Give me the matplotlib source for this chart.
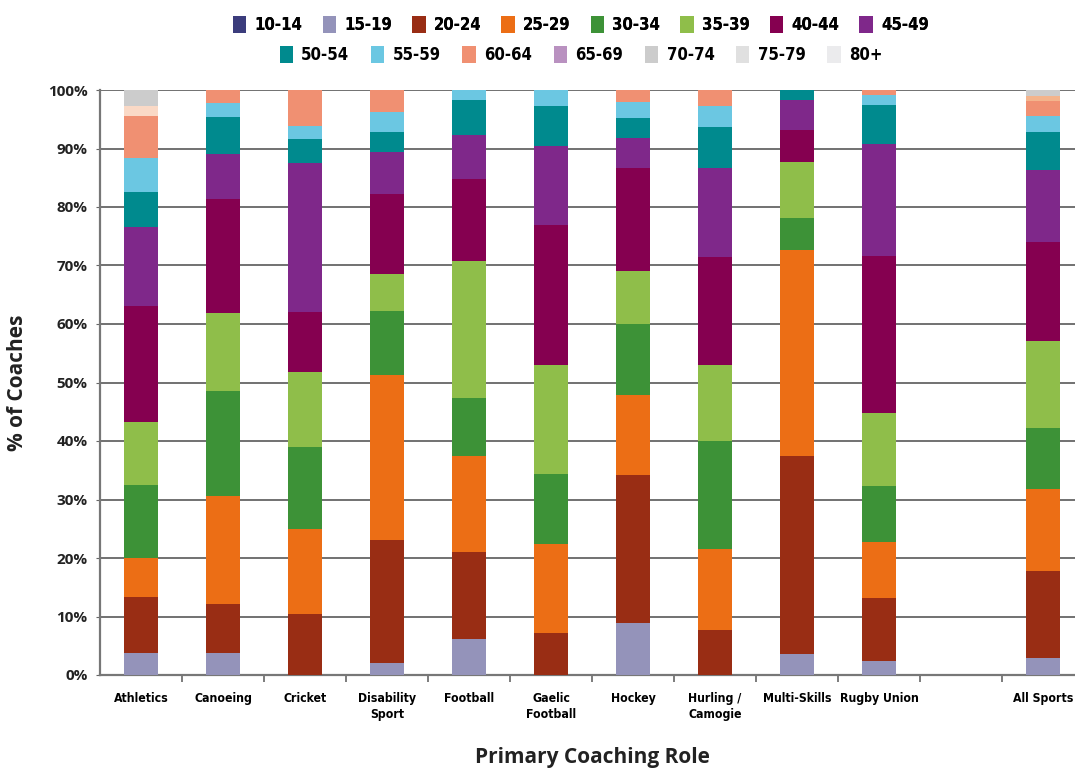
import numpy as np
import matplotlib
matplotlib.use("Agg")
import matplotlib.pyplot as plt
from matplotlib.patches import Patch
from matplotlib.ticker import FuncFormatter
from matplotlib.font_manager import FontProperties

# sports on the x axis (slot 10 is left empty in the original)
sports = ['Athletics', 'Canoeing', 'Cricket', 'Disability\nSport', 'Football',
          'Gaelic\nFootball', 'Hockey', 'Hurling /\nCamogie', 'Multi-Skills',
          'Rugby Union', '', 'All Sports']

age_groups = ['10-14', '15-19', '20-24', '25-29', '30-34', '35-39', '40-44', '45-49',
              '50-54', '55-59', '60-64', '65-69', '70-74', '75-79', '80+']

# % of coaches per age group, one value per sport
a10_14 = [0, 0, 0, 0, 0, 0, 0, 0, 0, 0, 0, 0]
a15_19 = [3.8, 3.8, 0, 2.0, 6.1, 0, 8.9, 0, 3.6, 2.4, 0, 2.9]
a20_24 = [9.5, 8.3, 10.4, 21.1, 14.9, 7.2, 25.3, 7.7, 33.8, 10.8, 0, 14.9]
a25_29 = [6.7, 18.5, 14.5, 28.2, 16.4, 15.2, 13.6, 13.8, 35.2, 9.5, 0, 14.0]
a30_34 = [12.5, 17.9, 14.0, 10.9, 9.9, 11.9, 12.2, 18.5, 5.6, 9.6, 0, 10.4]
a35_39 = [10.7, 13.3, 12.9, 6.3, 23.5, 18.7, 9.0, 13.0, 9.5, 12.5, 0, 14.9]
a40_44 = [19.9, 19.5, 10.2, 13.8, 14.0, 23.9, 17.7, 18.4, 5.5, 26.8, 0, 17.0]
a45_49 = [13.4, 7.7, 25.5, 7.1, 7.5, 13.6, 5.1, 15.3, 5.1, 19.2, 0, 12.3]
a50_54 = [6.1, 6.3, 4.2, 3.5, 6.0, 6.7, 3.4, 6.9, 1.7, 6.6, 0, 6.4]
a55_59 = [5.8, 2.4, 2.2, 3.3, 1.7, 2.8, 2.7, 3.7, 0, 1.7, 0, 2.8]
a60_64 = [7.2, 2.3, 6.1, 3.8, 0, 0, 2.1, 2.7, 0, 0.9, 0, 2.5]
a65_69 = [1.6, 0, 0, 0, 0, 0, 0, 0, 0, 0, 0, 0.9]
a70_74 = [2.8, 0, 0, 0, 0, 0, 0, 0, 0, 0, 0, 1.0]
a75_79 = [0, 0, 0, 0, 0, 0, 0, 0, 0, 0, 0, 0]
a80_plus = [0, 0, 0, 0, 0, 0, 0, 0, 0, 0, 0, 0]

series = [a10_14, a15_19, a20_24, a25_29, a30_34, a35_39, a40_44, a45_49,
          a50_54, a55_59, a60_64, a65_69, a70_74, a75_79, a80_plus]

legend_colors = ['#3B3C7C', '#9493BA', '#992D14', '#EC6E15', '#3D9237', '#8FBE4A',
                 '#850050', '#7F288A', '#008A8E', '#6BC7E2', '#F09072', '#B991C0',
                 '#CCCCCC', '#E0E0E0', '#EBEBED']
# the 65-69 segments are drawn in peach tones in the bars
bar_colors = list(legend_colors)
bar_colors[11] = ['#FAD9C6'] + ['#F4B48C'] * 11

tick_fp = FontProperties(family='DejaVu Sans', stretch='condensed', weight='bold', size=8.8)
leg_fp = FontProperties(family='DejaVu Sans', stretch='condensed', weight='bold', size=12)

fig = plt.figure(figsize=(10.75, 7.7), dpi=100)
ax = fig.add_axes([100 / 1075, 95 / 770, 984 / 1075, 585 / 770])

x = np.arange(len(sports))
bottom = np.zeros(len(sports))
for vals, col in zip(series, bar_colors):
    vals = np.array(vals, dtype=float)
    ax.bar(x, vals, bottom=bottom, width=0.42, color=col, linewidth=0, zorder=3)
    bottom += vals

ax.set_xlim(-0.5, len(sports) - 0.5)
ax.set_ylim(0, 100)
ax.set_yticks(np.arange(0, 101, 10))
ax.yaxis.set_major_formatter(FuncFormatter(lambda v, p: f'{v:.0f}%'))
ax.grid(axis='y', color='#4a4a4a', linewidth=1.1, zorder=0)

ax.set_xticks(x)
ax.set_xticklabels(sports, fontproperties=tick_fp, linespacing=1.35)
ax.set_xticks(np.arange(0.5, len(sports) - 0.5, 1), minor=True)
ax.tick_params(axis='x', which='major', length=0, pad=12)
ax.tick_params(axis='x', which='minor', length=5, color='#666666', width=1.2)
ax.tick_params(axis='y', length=3, color='#666666', pad=6)
for lab in ax.get_yticklabels():
    lab.set_fontsize(11)
    lab.set_fontweight('bold')
    lab.set_family(['Open Sans', 'DejaVu Sans'])
    lab.set_color('#222222')

for s in ['top', 'right']:
    ax.spines[s].set_visible(False)
for s in ['left', 'bottom']:
    ax.spines[s].set_color('#777777')
    ax.spines[s].set_linewidth(1.6)

ax.set_ylabel('% of Coaches', fontsize=15, fontweight='bold',
              family=['Open Sans', 'DejaVu Sans'], labelpad=14, color='#222222')
fig.text(592 / 1075, 1 - 758 / 770, 'Primary Coaching Role', ha='center', va='center',
         fontsize=15, fontweight='bold', family=['Open Sans', 'DejaVu Sans'], color='#222222')

handles = [Patch(facecolor=c, edgecolor='none') for c in legend_colors]
leg1 = fig.legend(handles[:8], age_groups[:8], ncol=8, loc='center',
                  bbox_to_anchor=(581 / 1075, 1 - 25 / 770), frameon=False,
                  prop=leg_fp, handlelength=0.8, handleheight=1.2,
                  handletextpad=0.5, columnspacing=1.2)
fig.add_artist(leg1)
fig.legend(handles[8:], age_groups[8:], ncol=7, loc='center',
           bbox_to_anchor=(581 / 1075, 1 - 55 / 770), frameon=False,
           prop=leg_fp, handlelength=0.8, handleheight=1.2,
           handletextpad=0.5, columnspacing=1.3)

fig.savefig('out.png', dpi=100)
